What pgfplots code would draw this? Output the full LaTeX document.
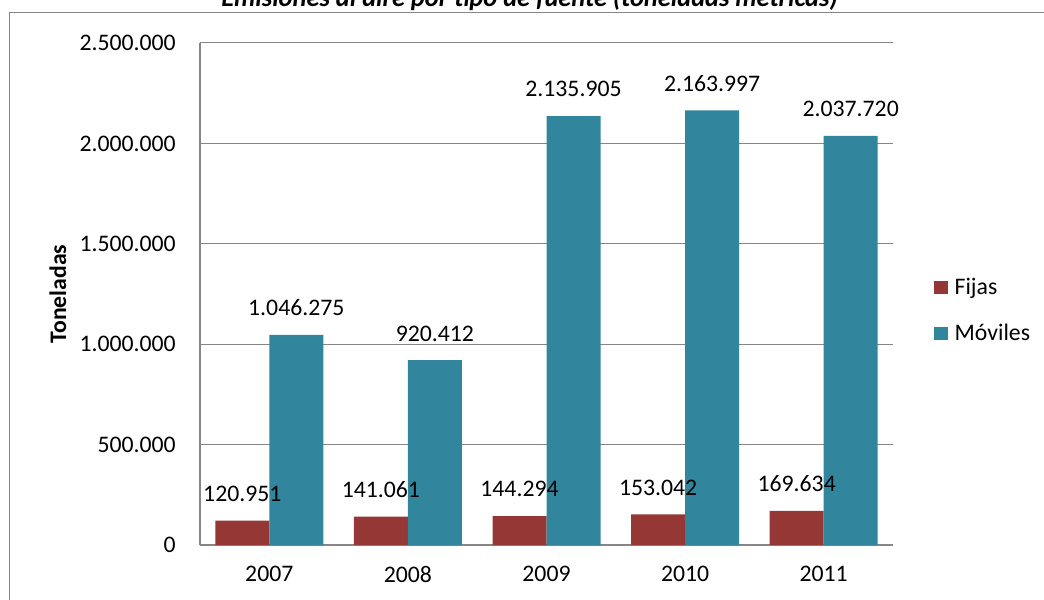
\documentclass[border=0pt]{standalone}
\usepackage{fontspec}
\setmainfont{Carlito}
\usepackage{pgfplots}
\pgfplotsset{compat=1.18}
\usepackage{pgfplotstable}
\definecolor{fijas}{HTML}{953735}
\definecolor{moviles}{HTML}{31859C}
\definecolor{gridc}{HTML}{868686}

\pgfplotstableread{
x y label
0 120951 120.951
1 141061 141.061
2 144294 144.294
3 153042 153.042
4 169634 169.634
}\fijas

\pgfplotstableread{
x y label
0 1046275 1.046.275
1 920412 920.412
2 2135905 2.135.905
3 2163997 2.163.997
4 2037720 2.037.720
}\moviles

\begin{document}
\fontsize{17.8pt}{21pt}\selectfont
\begin{tikzpicture}
\useasboundingbox (0,0) rectangle (783pt,449.25pt);
\clip (0,0) rectangle (783pt,449.25pt);
\draw[gridc, line width=0.75pt] (6.75pt,-5pt) -- (6.75pt,439.5pt) -- (800pt,439.5pt);
\begin{axis}[
  at={(150pt,40.5pt)}, anchor=south west,
  scale only axis, width=519.75pt, height=376.5pt,
  ymin=0, ymax=2500000, xmin=-0.5, xmax=4.5,
  ybar=0pt, bar width=40.5pt,
  xtick={0,1,2,3,4}, xticklabels={2007,2008,2009,2010,2011},
  ytick={0,500000,1000000,1500000,2000000,2500000},
  yticklabels={0,500.000,1.000.000,1.500.000,2.000.000,2.500.000},
  scaled y ticks=false,
  /pgf/number format/assume math mode=true,
  ymajorgrids, grid style={gridc, line width=0.75pt},
  axis x line*=bottom, axis y line*=left,
  axis line style={gridc, line width=1.1pt, -},
  major tick length=0pt, tick style={draw=none},
  yticklabel style={anchor=east, inner sep=0pt, xshift=-18pt},
  xticklabel style={anchor=north, inner sep=0pt, yshift=-15.5pt},
  ylabel={\bfseries Toneladas},
  ylabel style={at={(axis description cs:-0.2049,0.5)}, anchor=center, inner sep=0pt},
  title={Emisiones al aire por tipo de fuente (toneladas métricas)},
  title style={at={(axis description cs:0.4755,1.0558)}, anchor=base, font=\fontsize{19.8pt}{23pt}\selectfont\bfseries\itshape, inner sep=0pt},
  every node near coord/.append style={anchor=south, yshift=14pt, inner sep=0pt, text=black},
  legend style={at={(axis description cs:1.0592,0.4657)}, anchor=west, draw=none, fill=none,
    inner sep=0pt, row sep=17.5pt, column sep=5.25pt,
    nodes={anchor=base west, inner sep=0pt, text height=13pt, text depth=4pt}},
]
\addplot[fill=fijas, draw=none, nodes near coords, point meta=explicit symbolic,
  legend image code/.code={\fill[fijas] (0pt,0pt) rectangle (10pt,10pt);}]
  table[x=x, y=y, meta=label]{\fijas};
\addplot[fill=moviles, draw=none, nodes near coords, point meta=explicit symbolic,
  legend image code/.code={\fill[moviles] (0pt,0pt) rectangle (10pt,10pt);}]
  table[x=x, y=y, meta=label]{\moviles};
\legend{Fijas, Móviles}
\end{axis}
\end{tikzpicture}
\end{document}
